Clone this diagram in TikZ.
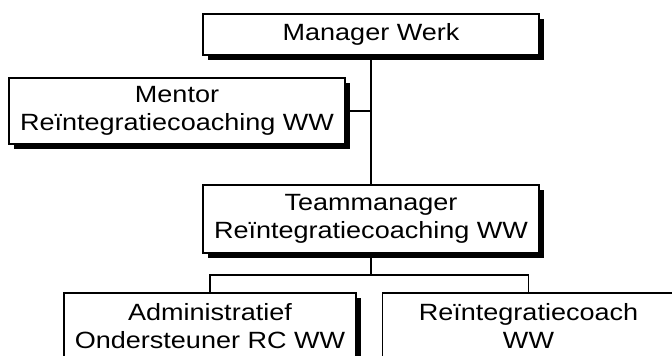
\documentclass[tikz,border=0pt]{standalone}
\usepackage{fontspec}
\setmainfont{Liberation Sans}[FakeStretch=1.15]
\usetikzlibrary{shadows}

\begin{document}
\begin{tikzpicture}[x=1pt,y=-1pt,line width=1.3pt,
	every node/.style={font=\fontsize{23.5}{28}\selectfont},
	post/.style={draw,rectangle,fill=white,align=center,inner sep=0pt,minimum width=336pt,minimum height=66pt,
		drop shadow={shadow xshift=4.5pt,shadow yshift=-4.5pt,fill=black,opacity=1}}]

\useasboundingbox (0,0) rectangle (672,356);

\node[post,minimum height=41pt]   (manager)      at (371,34.5)   {Manager Werk};
 \node[post] 	  (mentor)  at (177,111)  	{Mentor\\Re\"integratiecoaching WW};
	\node[post,minimum height=68pt]   (team)   at (371,219)      {Teammanager\\Re\"integratiecoaching WW};
	\node[post,minimum width=292pt] 	  (admin)  at (210,326)  	{Administratief\\Ondersteuner RC WW};
	\node[post,minimum width=292pt]   (coach)  at (528.5,326)     {Re\"integratiecoach\\WW};

	\coordinate (fork) at (371,275);

	\draw (manager.south) -- (team.north);
	\draw (mentor.east) -- (mentor.east -| manager.south);
	\draw (team.south) -- (fork) -| (admin.north);
	\draw (fork) -| (coach.north);

\end{tikzpicture}
\end{document}
